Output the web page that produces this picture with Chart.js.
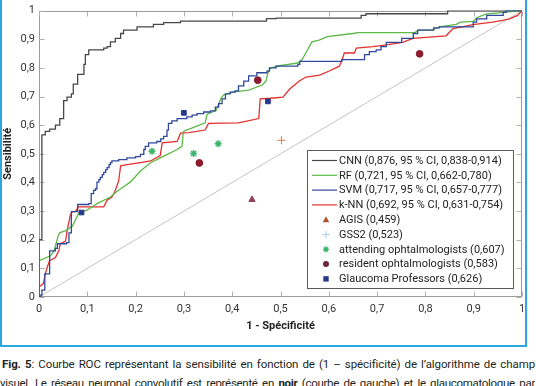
<!DOCTYPE html>
<html><head><meta charset="utf-8">
<script src="https://cdn.jsdelivr.net/npm/chart.js@4/dist/chart.umd.min.js"></script>
<style>
html,body{margin:0;padding:0;background:#fff;width:536px;height:386px;overflow:hidden;position:relative;font-family:Roboto,sans-serif}
#frame{position:absolute;left:0;top:-5px;width:527px;height:352px;box-sizing:border-box;border:2px solid #2aa8e2;}
#wrap{position:absolute;left:0;top:0;width:536px;height:346px}
.cap{position:absolute;left:2px;width:533px;font-size:11.5px;line-height:19px;color:#231f20;text-align:justify;text-align-last:justify;overflow:hidden}
</style></head><body>
<div id="frame"></div>
<div id="wrap"><canvas id="c" width="536" height="346"></canvas></div>
<div class="cap" style="top:355px;letter-spacing:-0.1px"><b>Fig. 5</b>: Courbe ROC représentant la sensibilité en fonction de (1 – spécificité) de l’algorithme de champ</div>
<div class="cap" style="top:374px;left:0;width:535px;letter-spacing:-0.3px">visuel. Le réseau neuronal convolutif est représenté en <b>noir</b> (courbe de gauche) et le glaucomatologue par</div>
<script>
// ---- data (1 - specificity = x, sensitivity = y) ----
const tickValues = [0,0.1,0.2,0.3,0.4,0.5,0.6,0.7,0.8,0.9,1];

const cnnX = [0,0,0.006,0.013,0.022,0.034,0.043,0.051,0.058,0.067,0.071,0.080,0.093,0.096,0.103,0.134,0.141,0.148,0.158,0.169,0.175,0.203,0.237,0.258,0.293,0.471,0.491,0.667,0.677,0.846,1];
const cnnY = [0,0.2,0.566,0.578,0.586,0.600,0.623,0.686,0.698,0.709,0.743,0.777,0.812,0.846,0.863,0.869,0.874,0.891,0.903,0.920,0.932,0.943,0.952,0.958,0.963,0.972,0.974,0.983,0.989,1,1];

const svmX = [0,0.004,0.006,0.012,0.022,0.034,0.038,0.057,0.062,0.067,0.080,0.103,0.108,0.113,0.117,0.120,0.124,0.127,0.131,0.134,0.138,0.141,0.145,0.148,0.151,0.165,0.182,0.200,0.210,0.217,0.220,0.227,0.244,0.252,0.258,0.265,0.268,0.275,0.286,0.306,0.317,0.327,0.341,0.355,0.365,0.372,0.379,0.386,0.396,0.406,0.413,0.424,0.434,0.451,0.472,0.477,0.491,0.536,0.540,0.627,0.674,0.684,0.698,0.708,0.719,0.751,0.775,0.784,0.817,0.829,0.899,0.906,0.927,0.961,0.967,1];
const svmY = [0,0.007,0.024,0.081,0.161,0.170,0.186,0.190,0.224,0.298,0.323,0.326,0.361,0.372,0.378,0.401,0.410,0.418,0.427,0.435,0.445,0.452,0.462,0.469,0.475,0.480,0.486,0.490,0.498,0.515,0.526,0.538,0.543,0.552,0.561,0.583,0.606,0.615,0.623,0.629,0.635,0.640,0.646,0.650,0.663,0.675,0.692,0.709,0.715,0.720,0.737,0.754,0.772,0.783,0.789,0.800,0.806,0.812,0.823,0.829,0.846,0.857,0.863,0.874,0.889,0.903,0.920,0.932,0.940,0.943,0.960,0.971,0.983,0.994,1,1];

const rfX = [0,0,0.024,0.031,0.040,0.043,0.055,0.069,0.082,0.100,0.120,0.148,0.158,0.169,0.189,0.210,0.231,0.251,0.286,0.296,0.299,0.324,0.344,0.348,0.367,0.376,0.382,0.400,0.434,0.462,0.470,0.474,0.479,0.491,0.536,0.545,0.557,0.565,0.580,0.597,0.650,0.660,0.778,0.786,0.815,0.829,0.864,0.873,0.899,0.906,0.925,0.966,1];
const rfY = [0,0.127,0.144,0.161,0.215,0.224,0.232,0.247,0.292,0.304,0.326,0.349,0.364,0.378,0.401,0.440,0.469,0.486,0.515,0.526,0.578,0.595,0.608,0.638,0.652,0.692,0.705,0.715,0.722,0.740,0.754,0.783,0.798,0.806,0.817,0.830,0.866,0.891,0.897,0.909,0.920,0.923,0.923,0.932,0.933,0.943,0.952,0.960,0.962,0.975,0.988,0.995,1];

const knnX = [0,0,0.009,0.013,0.017,0.022,0.034,0.041,0.044,0.055,0.058,0.065,0.069,0.075,0.082,0.134,0.141,0.151,0.158,0.165,0.169,0.182,0.210,0.231,0.251,0.255,0.286,0.293,0.310,0.344,0.351,0.413,0.455,0.458,0.479,0.505,0.519,0.539,0.553,0.581,0.601,0.622,0.629,0.632,0.653,0.657,0.691,0.708,0.753,0.774,0.843,0.857,0.884,0.898,0.939,0.960,0.974,0.991,1];
const knnY = [0,0.035,0.047,0.080,0.104,0.127,0.138,0.161,0.186,0.195,0.229,0.287,0.298,0.298,0.315,0.315,0.338,0.349,0.372,0.406,0.458,0.462,0.469,0.475,0.494,0.538,0.543,0.572,0.574,0.583,0.606,0.608,0.623,0.692,0.694,0.698,0.726,0.754,0.768,0.775,0.789,0.806,0.835,0.852,0.852,0.869,0.874,0.878,0.889,0.903,0.912,0.937,0.946,0.951,0.960,0.966,0.971,0.983,1];

const diagX = [0,1];
const diagY = [0,1];

const agisX = [0.441];             const agisY = [0.340];
const gss2X = [0.502];             const gss2Y = [0.547];
const attendX = [0.234,0.320,0.371]; const attendY = [0.509,0.501,0.535];
const residX = [0.332,0.453,0.788];  const residY = [0.468,0.757,0.849];
const profX = [0.088,0.300,0.474];   const profY = [0.295,0.643,0.683];

const labels = [
  'CNN (0,876, 95 % CI, 0,838-0,914)',
  'RF (0,721, 95 % CI, 0,662-0,780)',
  'SVM (0,717, 95 % CI, 0,657-0,777)',
  'k-NN (0,692, 95 % CI, 0,631-0,754)',
  'AGIS (0,459)',
  'GSS2 (0,523)',
  'attending ophtalmologists (0,607)',
  'resident ophtalmologists (0,583)',
  'Glaucoma Professors (0,626)'
];

// ---- build ----
const pts = (xs, ys) => xs.map((v, i) => ({x: v, y: ys[i]}));
const fmt = v => { const r = Math.round(v * 10) / 10; if (r === 0) return '0'; if (r === 1) return '1'; return r.toFixed(1).replace('.', ','); };

const lineDs = (label, xs, ys, color, stepped, order) => ({
  type: 'line', label, data: pts(xs, ys), borderColor: color, backgroundColor: color,
  borderWidth: 1.3, pointRadius: 0, tension: 0, stepped: stepped, fill: false, order
});
const ptDs = (label, xs, ys, style, color, radius, bw) => ({
  type: 'scatter', label, data: pts(xs, ys), pointStyle: style, pointRadius: radius,
  backgroundColor: color, borderColor: color, pointBorderWidth: bw, order: 0
});

const datasets = [
  lineDs(labels[0], cnnX, cnnY, '#474747', 'before', 3),
  lineDs(labels[1], rfX, rfY, '#5cb946', false, 4),
  lineDs(labels[2], svmX, svmY, '#30489c', 'before', 2),
  lineDs(labels[3], knnX, knnY, '#e3312f', false, 5),
  ptDs(labels[4], agisX, agisY, 'triangle', '#913f5e', 3.6, 1),
  ptDs(labels[5], gss2X, gss2Y, 'cross', '#ef7a48', 4, 1),
  ptDs(labels[6], attendX, attendY, 'star', '#3db56e', 3.5, 1.5),
  ptDs(labels[7], residX, residY, 'circle', '#8b1b2d', 3.4, 1),
  ptDs(labels[8], profX, profY, 'rect', '#26398c', 3.3, 1),
  {type: 'line', label: 'diag', data: pts(diagX, diagY), borderColor: '#c4c4c4', borderWidth: 1, pointRadius: 0, order: 10}
];

// legend appearance (reference legend uses slightly different marker colours)
const legendLook = [
  {kind: 'line', color: '#474747'},
  {kind: 'line', color: '#5cb946'},
  {kind: 'line', color: '#30489c'},
  {kind: 'line', color: '#e3312f'},
  {kind: 'triangle', color: '#b0532c'},
  {kind: 'cross', color: '#9ccdee'},
  {kind: 'star', color: '#3db56e'},
  {kind: 'circle', color: '#6e2340'},
  {kind: 'rect', color: '#26398c'}
];

function drawMarker(ctx, kind, x, y, color) {
  ctx.save();
  ctx.fillStyle = color; ctx.strokeStyle = color; ctx.lineWidth = 1;
  ctx.beginPath();
  if (kind === 'triangle') { ctx.moveTo(x, y - 3.5); ctx.lineTo(x + 3.3, y + 2.5); ctx.lineTo(x - 3.3, y + 2.5); ctx.closePath(); ctx.fill(); }
  else if (kind === 'cross') { ctx.moveTo(x - 3.5, y); ctx.lineTo(x + 3.5, y); ctx.moveTo(x, y - 3.5); ctx.lineTo(x, y + 3.5); ctx.stroke(); }
  else if (kind === 'star') { ctx.lineWidth = 1.3; for (let k = 0; k < 4; k++) { const a = k * Math.PI / 4; ctx.moveTo(x - 3 * Math.cos(a), y - 3 * Math.sin(a)); ctx.lineTo(x + 3 * Math.cos(a), y + 3 * Math.sin(a)); } ctx.stroke(); }
  else if (kind === 'circle') { ctx.arc(x, y, 3, 0, Math.PI * 2); ctx.fill(); }
  else if (kind === 'rect') { ctx.fillRect(x - 2.7, y - 2.7, 5.4, 5.4); }
  ctx.restore();
}

const boxPlugin = {
  id: 'boxTicks',
  beforeDatasetsDraw(chart) {
    const {ctx, chartArea: a, scales: {x, y}} = chart;
    const L = Math.round(a.left) + 0.5, R = Math.round(a.right) - 0.5, T = Math.round(a.top) + 0.5, B = Math.round(a.bottom) - 0.5;
    ctx.save();
    ctx.strokeStyle = '#9c9c9c'; ctx.lineWidth = 1;
    ctx.strokeRect(L, T, R - L, B - T);
    ctx.strokeStyle = '#b0b0b0';
    ctx.beginPath();
    x.ticks.forEach(t => { const p = Math.round(x.getPixelForValue(t.value)) + 0.5; ctx.moveTo(p, B); ctx.lineTo(p, B - 5); ctx.moveTo(p, T); ctx.lineTo(p, T + 5); });
    y.ticks.forEach(t => { const p = Math.round(y.getPixelForValue(t.value)) + 0.5; ctx.moveTo(L, p); ctx.lineTo(L + 5, p); ctx.moveTo(R, p); ctx.lineTo(R - 5, p); });
    ctx.stroke();
    ctx.restore();
  }
};

const legendPlugin = {
  id: 'boxLegend',
  afterDraw(chart) {
    const ctx = chart.ctx, a = chart.chartArea;
    ctx.save();
    ctx.font = '11px Roboto';
    const maxW = Math.max(...labels.map(s => ctx.measureText(s).width));
    const rowH = 14.8, w = Math.round(32 + maxW + 8), h = Math.round(20 + rowH * (labels.length - 1));
    const right = Math.round(a.right - 9), bottom = Math.round(a.bottom - 9);
    const left = right - w, top = bottom - h;
    ctx.fillStyle = '#fff'; ctx.fillRect(left, top, w, h);
    ctx.strokeStyle = '#5a5a5a'; ctx.lineWidth = 1; ctx.strokeRect(left + 0.5, top + 0.5, w, h);
    labels.forEach((s, i) => {
      const cy = top + 10.5 + i * rowH;
      const lk = legendLook[i];
      if (lk.kind === 'line') {
        ctx.strokeStyle = lk.color; ctx.lineWidth = 1.2;
        ctx.beginPath(); ctx.moveTo(left + 5, cy); ctx.lineTo(left + 30, cy); ctx.stroke();
      } else {
        drawMarker(ctx, lk.kind, left + 19, cy, lk.color);
      }
      ctx.fillStyle = '#222'; ctx.textBaseline = 'middle'; ctx.textAlign = 'left';
      ctx.fillText(s, left + 32, cy + 0.5);
    });
    ctx.restore();
  }
};

const tickFont = {family: 'Roboto', size: 11};
const titleFont = {family: 'Roboto', size: 11, weight: 'bold'};

new Chart(document.getElementById('c'), {
  type: 'line',
  data: {datasets},
  options: {
    responsive: false, animation: false, devicePixelRatio: 1,
    layout: {padding: {left: 0, top: 5, right: 14, bottom: 9}},
    plugins: {legend: {display: false}, tooltip: {enabled: false}},
    scales: {
      x: {
        type: 'linear', min: 0, max: 1,
        afterBuildTicks: s => { s.ticks = tickValues.map(v => ({value: v})); },
        grid: {display: false, drawTicks: false}, border: {display: false},
        ticks: {padding: 6, color: '#333', font: tickFont, maxRotation: 0, autoSkip: false, callback: v => fmt(v)},
        title: {display: true, text: '1 - Spécificité', color: '#222', font: titleFont, padding: {top: 4, bottom: 4}},
        afterFit: s => { s.height = 40; }
      },
      y: {
        type: 'linear', min: 0, max: 1,
        afterBuildTicks: s => { s.ticks = tickValues.map(v => ({value: v})); },
        grid: {display: false, drawTicks: false}, border: {display: false},
        ticks: {padding: 4, color: '#333', font: tickFont, autoSkip: false, callback: v => fmt(v)},
        title: {display: true, text: 'Sensibilité', color: '#222', font: titleFont, padding: {top: 2, bottom: 0}},
        afterFit: s => { s.width = 39; }
      }
    }
  },
  plugins: [boxPlugin, legendPlugin]
});
</script>
</body></html>
